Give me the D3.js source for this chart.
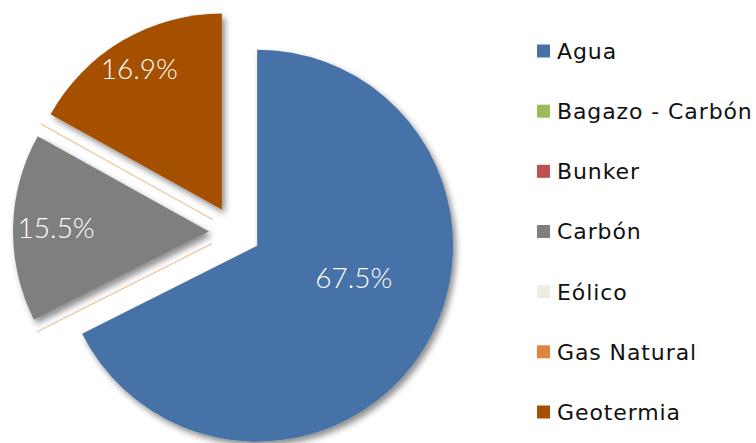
<!DOCTYPE html>
<html>
<head>
<meta charset="utf-8">
<script src="https://cdn.jsdelivr.net/npm/d3@7"></script>
<style>
  body { margin: 0; background: #fff; }
  svg { display: block; }
</style>
</head>
<body>
<div id="chart"></div>
<script>
// data
const categories = ['Agua', 'Bagazo - Carbón', 'Bunker', 'Carbón', 'Eólico', 'Gas Natural', 'Geotermia'];
const values = [67.5, 0, 0, 15.5, 0, 0, 16.9];
const colors = ['#4672a8', '#9bbb59', '#c0504d', '#7f7f7f', '#eeece1', '#e0843f', '#a54f06'];

const width = 756, height = 443;
const cx = 235, cy = 232, radius = 196, explode = 26;

const svg = d3.select('#chart').append('svg')
    .attr('width', width)
    .attr('height', height);

const defs = svg.append('defs');
defs.append('filter')
    .attr('id', 'shadow')
    .attr('x', '-20%').attr('y', '-20%')
    .attr('width', '140%').attr('height', '140%')
  .append('feDropShadow')
    .attr('dx', 3).attr('dy', 4)
    .attr('stdDeviation', 3)
    .attr('flood-color', '#000')
    .attr('flood-opacity', 0.45);

const data = categories.map((c, i) => ({name: c, value: values[i], color: colors[i]}));

const pie = d3.pie().sort(null).value(d => d.value);
const arc = d3.arc().innerRadius(0).outerRadius(radius);
const arcs = pie(data);

const g = svg.append('g').attr('transform', `translate(${cx},${cy})`);

// explode every slice along its bisector
const shift = d => {
  const a = (d.startAngle + d.endAngle) / 2;
  return [Math.sin(a) * explode, -Math.cos(a) * explode];
};

const slices = g.selectAll('.slice')
  .data(arcs)
  .enter().append('g')
    .attr('class', 'slice')
    .attr('transform', d => `translate(${shift(d)})`);

slices.append('path')
    .attr('d', arc)
    .attr('fill', d => d.data.color)
    .attr('filter', d => d.value > 0 ? 'url(#shadow)' : null)
    .attr('stroke', d => d.value > 0 ? 'none' : '#f0c9a6')
    .attr('stroke-width', 0.8);

// data labels (best-fit placement, tuned per slice)
const labelPlace = {'Agua': {r: 0.52, da: -13}, 'Carbón': {r: 0.78, da: 0}, 'Geotermia': {r: 0.83, da: 0}};
slices.filter(d => d.value > 0).append('text')
    .attr('transform', d => {
      const p = labelPlace[d.data.name];
      const a = (d.startAngle + d.endAngle) / 2 + p.da * Math.PI / 180;
      return `translate(${Math.sin(a) * radius * p.r},${-Math.cos(a) * radius * p.r})`;
    })
    .attr('text-anchor', 'middle')
    .attr('dy', '0.36em')
    .style('font-family', 'Lato, sans-serif')
    .style('font-weight', 300)
    .style('font-size', '28px')
    .style('fill', '#fff')
    .text(d => d3.format('.1f')(d.value) + '%');

// legend
const legendY = d3.scalePoint().domain(categories).range([51, 412]);
const legend = svg.append('g').selectAll('.legend')
  .data(data)
  .enter().append('g')
    .attr('class', 'legend')
    .attr('transform', d => `translate(537,${legendY(d.name)})`);

legend.append('rect')
    .attr('x', 0).attr('y', -6.5)
    .attr('width', 13).attr('height', 13)
    .attr('fill', d => d.color);

legend.append('text')
    .attr('x', 20)
    .attr('dy', '0.36em')
    .style('font-family', '"DejaVu Sans", sans-serif')
    .style('font-size', '22px')
    .style('letter-spacing', '0.9px')
    .style('fill', '#111')
    .text(d => d.name);
</script>
</body>
</html>
